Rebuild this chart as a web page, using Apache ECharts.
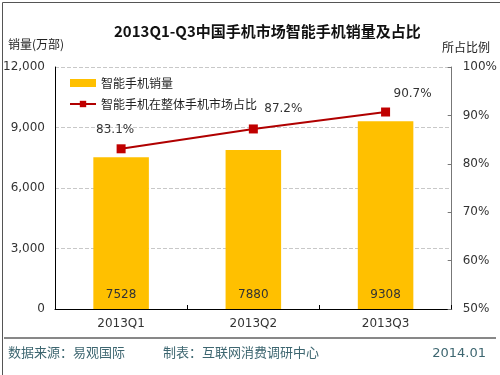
<!DOCTYPE html>
<html><head><meta charset="utf-8">
<script src="https://cdn.jsdelivr.net/npm/echarts@6/dist/echarts.min.js"></script>
<style>html,body{margin:0;padding:0;background:#fff}#c{width:500px;height:375px}</style>
</head><body><div id="c"></div>
<script>
const categories = ['2013Q1', '2013Q2', '2013Q3'];
const salesValues = [7528, 7880, 9308];
const shareValues = [83.1, 87.2, 90.7];
const leftTicks = [0, 3000, 6000, 9000, 12000];
const rightTicks = [50, 60, 70, 80, 90, 100];

const shareLabelOffsets = [[-6, 0], [30, -2], [27, 0]];

const chart = echarts.init(document.getElementById('c'));
const ff = '"Noto Sans CJK SC", "Noto Sans", sans-serif';
chart.setOption({
  animation: false,
  backgroundColor: '#fff',
  title: {
    text: '2013Q1-Q3中国手机市场智能手机销量及占比',
    left: 109, top: 19,
    textStyle: { fontSize: 15, fontWeight: 'bold', color: '#111', fontFamily: ff }
  },
  grid: { left: 48, right: 43, top: 67, bottom: 66 },
  legend: {
    orient: 'vertical', left: 64, top: 72, itemGap: 9,
    itemWidth: 26, itemHeight: 8,
    textStyle: { fontSize: 12, color: '#222', fontFamily: ff },
    data: [
      { name: '智能手机销量', icon: 'rect' },
      { name: '智能手机在整体手机市场占比' }
    ]
  },
  xAxis: {
    type: 'category', data: categories,
    axisLine: { lineStyle: { color: '#000', width: 1 } },
    axisTick: { show: true, inside: true, length: 4, lineStyle: { color: '#000' } },
    axisLabel: { color: '#333', fontSize: 12, margin: 9, fontFamily: 'DejaVu Sans' }
  },
  yAxis: [
    {
      type: 'value', min: 0, max: 12000, interval: 3000,
      axisLine: { show: true, lineStyle: { color: '#000' } },
      axisTick: { show: false },
      axisLabel: { color: '#333', fontSize: 12, margin: 10, fontFamily: 'DejaVu Sans',
        formatter: v => v.toLocaleString('en-US') },
      splitLine: { lineStyle: { color: '#c8c8c8', type: 'dashed' } }
    },
    {
      type: 'value', min: 50, max: 100, interval: 10, position: 'right',
      axisLine: { show: true, lineStyle: { color: '#777' } },
      axisTick: { show: true, inside: true, length: 4, lineStyle: { color: '#777' } },
      axisLabel: { color: '#333', fontSize: 12, margin: 11, fontFamily: 'DejaVu Sans',
        formatter: v => v + '%' },
      splitLine: { show: false }
    }
  ],
  series: [
    {
      name: '智能手机销量', type: 'bar', data: salesValues, barWidth: '42%',
      itemStyle: { color: '#FFC000' },
      label: { show: true, position: 'insideBottom', distance: 8, color: '#333', fontSize: 12, fontFamily: 'DejaVu Sans' }
    },
    {
      name: '智能手机在整体手机市场占比', type: 'line', yAxisIndex: 1,
      data: shareValues.map((v, i) => ({ value: v, label: { offset: shareLabelOffsets[i] } })),
      symbol: 'rect', symbolSize: 9,
      lineStyle: { color: '#B00000', width: 2 },
      itemStyle: { color: '#C00000' },
      label: { show: true, position: 'top', distance: 8, color: '#333', fontSize: 12,
        fontFamily: 'DejaVu Sans', formatter: p => p.value.toFixed(1) + '%' }
    }
  ],
  graphic: [
    { type: 'rect', left: 0, top: 0, shape: { width: 499, height: 374 },
      style: { fill: 'none', stroke: '#555', lineWidth: 1 }, silent: true },
    { type: 'text', left: 8, top: 38, style: { text: '销量(万部)', fontSize: 12, fill: '#222', fontFamily: ff } },
    { type: 'text', right: 10, top: 41, style: { text: '所占比例', fontSize: 12, fill: '#222', fontFamily: ff } },
    { type: 'line', shape: { x1: 4, y1: 338, x2: 496, y2: 338 }, style: { stroke: '#111', lineWidth: 1 } },
    { type: 'text', left: 8, top: 346, style: { text: '数据来源：易观国际', fontSize: 13, fill: '#3d6670', fontFamily: ff } },
    { type: 'text', left: 163, top: 346, style: { text: '制表：互联网消费调研中心', fontSize: 13, fill: '#3d6670', fontFamily: ff } },
    { type: 'text', right: 14, top: 347, style: { text: '2014.01', fontSize: 13, fill: '#3d6670', fontFamily: 'DejaVu Sans' } }
  ]
});
</script></body></html>
